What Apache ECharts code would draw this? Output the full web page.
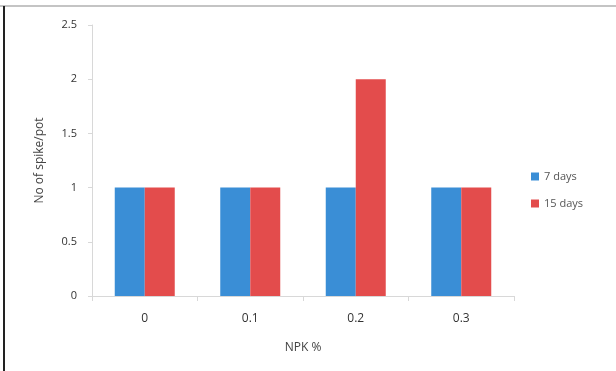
<!DOCTYPE html>
<html>
<head>
<meta charset="utf-8">
<style>
  html, body { margin: 0; padding: 0; background: #fff; }
  #chart { width: 616px; height: 371px; }
</style>
<script src="https://cdn.jsdelivr.net/npm/echarts@6/dist/echarts.min.js"></script>
</head>
<body>
<div id="chart"></div>
<script>
// NPK concentrations and spike counts per pot
const categories = ['0', '0.1', '0.2', '0.3'];
const days7 = [1, 1, 1, 1];
const days15 = [1, 1, 2, 1];
const yTicks = [0, 0.5, 1, 1.5, 2, 2.5];

const chart = echarts.init(document.getElementById('chart'));
const font = '"Open Sans", "DejaVu Sans", sans-serif';

chart.setOption({
  animation: false,
  backgroundColor: '#fff',
  grid: { left: 92, right: 102, top: 25, bottom: 75, containLabel: false },
  legend: {
    orient: 'vertical',
    left: 526,
    top: 166,
    itemWidth: 8,
    itemHeight: 8,
    itemGap: 16,
    icon: 'rect',
    textStyle: { fontFamily: font, fontSize: 11, color: '#555' },
    data: ['7 days', '15 days']
  },
  xAxis: {
    type: 'category',
    data: categories,
    name: 'NPK %',
    nameLocation: 'middle',
    nameGap: 46,
    nameTextStyle: { fontFamily: font, fontSize: 12, color: '#444' },
    axisLine: { lineStyle: { color: '#d8d8d8' } },
    axisTick: { show: true, length: 5, lineStyle: { color: '#d8d8d8' } },
    axisLabel: { fontFamily: font, fontSize: 12, color: '#333', margin: 17 }
  },
  yAxis: {
    type: 'value',
    min: 0,
    max: yTicks[yTicks.length - 1],
    interval: yTicks[1] - yTicks[0],
    name: 'No of spike/pot',
    nameLocation: 'middle',
    nameGap: 46,
    nameTextStyle: { fontFamily: font, fontSize: 12, color: '#444' },
    axisLine: { show: true, lineStyle: { color: '#d8d8d8' } },
    axisTick: { show: true, length: 4, inside: false, lineStyle: { color: '#d8d8d8' } },
    splitLine: { show: false },
    axisLabel: {
      fontFamily: font, fontSize: 11, color: '#333', margin: 15,
      formatter: v => String(v)
    }
  },
  series: [
    {
      name: '7 days', type: 'bar', data: days7,
      barWidth: 30, barGap: '0%',
      itemStyle: { color: '#3a8ed6' }
    },
    {
      name: '15 days', type: 'bar', data: days15,
      barWidth: 30, barGap: '0%',
      itemStyle: { color: '#e34c4c' }
    }
  ],
  graphic: [
    { type: 'rect', shape: { x: 0, y: 5, width: 616, height: 2 }, style: { fill: '#c4c4c4' } },
    { type: 'rect', shape: { x: 3, y: 6, width: 2, height: 365 }, style: { fill: '#222' } }
  ]
});
</script>
</body>
</html>
